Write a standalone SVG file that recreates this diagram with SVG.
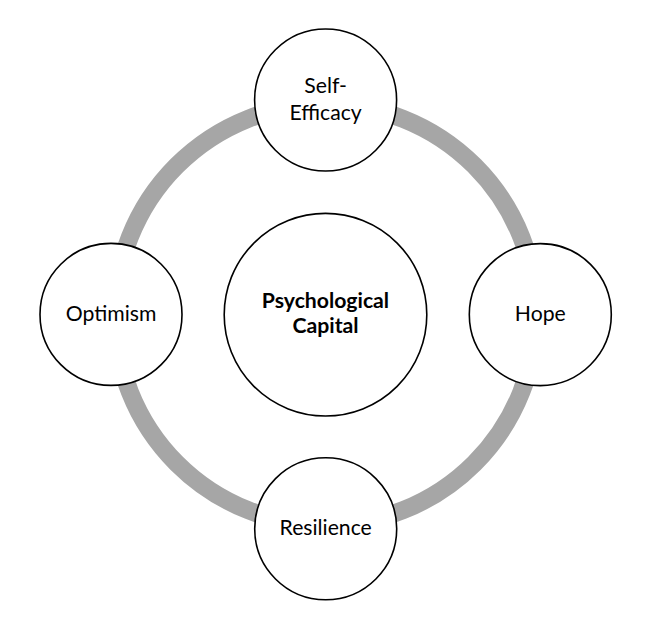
<svg xmlns="http://www.w3.org/2000/svg" width="645" height="621" viewBox="0 0 645 621">
<style>
.node circle{fill:#fff;stroke:#000;stroke-width:1.6}
.node text{font-family:Lato,"Liberation Sans",sans-serif;font-size:21.2px;fill:#000;text-anchor:middle}
.bold text{font-weight:bold}
</style>
<rect width="645" height="621" fill="#fff"/>
<g id="connectors">
<circle cx="325.6" cy="314.5" r="210.5" fill="none" stroke="#a6a6a6" stroke-width="18"/>
</g>
<g id="center" class="node bold">
<circle cx="325.5" cy="314.7" r="101.3"/>
<text x="325.5" y="308.3">Psychological</text>
<text x="325.5" y="333.3">Capital</text>
</g>
<g id="self-efficacy" class="node">
<circle cx="325.6" cy="100" r="71"/>
<text x="325.6" y="93.3">Self-</text>
<text x="325.6" y="120">Efficacy</text>
</g>
<g id="hope" class="node">
<circle cx="540.3" cy="314.6" r="71"/>
<text x="540.3" y="320.7">Hope</text>
</g>
<g id="resilience" class="node">
<circle cx="325.7" cy="528.8" r="71"/>
<text x="325.7" y="534.7">Resilience</text>
</g>
<g id="optimism" class="node">
<circle cx="111" cy="314.4" r="71"/>
<text x="111" y="320.7">Optimism</text>
</g>
</svg>
